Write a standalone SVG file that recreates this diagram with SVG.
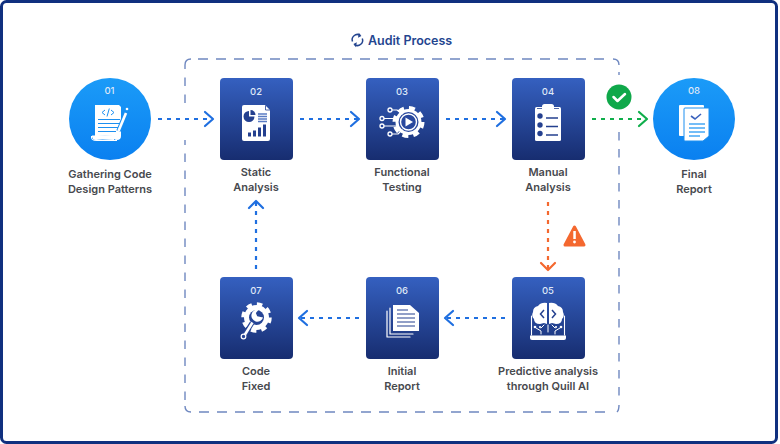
<svg xmlns="http://www.w3.org/2000/svg" width="780" height="444" viewBox="0 0 780 444">
<style>
.lbl{font:600 11px Inter,"Liberation Sans",sans-serif;fill:#47494e;text-anchor:middle}
.num{font:500 9.5px Inter,"Liberation Sans",sans-serif;fill:#dfe7f7;text-anchor:middle}
.conn{fill:none;stroke-width:2.2;stroke-dasharray:4 5}
.head{fill:none;stroke-width:2.2;stroke-linecap:round;stroke-linejoin:round}
.w{fill:#fff}
.ws{fill:none;stroke:#fff;stroke-linecap:round;stroke-linejoin:round}
</style>
<defs>
<linearGradient id="tile" x1="0" y1="0" x2="0" y2="1"><stop offset="0" stop-color="#3560c0"/><stop offset="1" stop-color="#172d70"/></linearGradient>
<linearGradient id="disc" x1="0" y1="0" x2="0" y2="1"><stop offset="0" stop-color="#1b9bf8"/><stop offset="1" stop-color="#0a80f0"/></linearGradient>
<rect id="box" width="73" height="82" rx="4" fill="url(#tile)"/>
</defs>
<rect x="1.500" y="1.500" width="775" height="441" rx="5" fill="#fff" stroke="#10307f" stroke-width="3"/>

<!-- audit frame, broken where connectors and the status badge cross it -->
<g id="frame" fill="none" stroke="#6f88c0" stroke-width="1.400">
<path stroke-dasharray="8.500 8.500" d="M185 103V65"/>
<path d="M185 65q0-6 6-6"/>
<path stroke-dasharray="10 8" d="M198 59H608"/>
<path d="M613 59q6 0 6 6"/>
<path d="M619 72V75"/>
<path stroke-dasharray="8.500 8.500" d="M619 132V400"/>
<path d="M619 405q0 5-2 7"/>
<path stroke-dasharray="10 8" d="M605 412H196"/>
<path d="M191 412q-6 0-6-6"/>
<path stroke-dasharray="8.500 8.500" d="M185 400V140"/>
</g>
<g id="title">
<text x="368" y="45" font-family="Inter,'Liberation Sans',sans-serif" font-size="12.500" font-weight="600" fill="#24458f">Audit Process</text>
<path d="M352.500 41.500a5.200 5.200 0 0 1 7.500-6.300M362.300 38.500a5.200 5.200 0 0 1-7.500 6.300" fill="none" stroke="#24458f" stroke-width="1.500"/>
<path d="M358.800 32.800l2.600 3.200-3.400 1.800ZM356 47.200l-2.600-3.200 3.400-1.800Z" fill="#24458f"/>
</g>

<g id="connectors">
<path class="conn" stroke="#1f6fe0" d="M158 119H212"/><path class="head" stroke="#1f6fe0" d="M205 112l8 7-8 7"/>
<path class="conn" stroke="#1f6fe0" d="M300 119H358"/><path class="head" stroke="#1f6fe0" d="M351 112l8 7-8 7"/>
<path class="conn" stroke="#1f6fe0" d="M446 119H504"/><path class="head" stroke="#1f6fe0" d="M497 112l8 7-8 7"/>
<path class="conn" stroke="#0fae4b" d="M592 119H646"/><path class="head" stroke="#0fae4b" d="M639 112l8 7-8 7"/>
<path class="conn" stroke="#f4682f" d="M548 202V270"/><path class="head" stroke="#f4682f" d="M541 263l7 7 7-7"/>
<path class="conn" stroke="#1f6fe0" d="M505 318H447"/><path class="head" stroke="#1f6fe0" d="M453 311l-8 7 8 7"/>
<path class="conn" stroke="#1f6fe0" d="M359 318H301"/><path class="head" stroke="#1f6fe0" d="M307 311l-8 7 8 7"/>
<path class="conn" stroke="#1f6fe0" d="M256 269V202"/><path class="head" stroke="#1f6fe0" d="M249 208l7-7 7 7"/>
</g>

<g id="status-ok"><circle cx="619" cy="97" r="12.500" fill="#0fa84a"/><path d="M613.500 97l4 4 7.500-7" fill="none" stroke="#fff" stroke-width="2.500" stroke-linecap="round" stroke-linejoin="round"/></g>
<g id="status-warn"><path d="M574.500 227L584 245H565Z" fill="#f4682f" stroke="#f4682f" stroke-width="3" stroke-linejoin="round"/><rect x="573.300" y="231" width="2.500" height="8" fill="#fff"/><circle cx="574.500" cy="242" r="1.400" fill="#fff"/></g>

<g id="node-01">
<circle cx="110" cy="119" r="41" fill="url(#disc)"/>
<text class="num" x="109.500" y="94">01</text>
<path class="w" d="M95 105H119L121 107V136Q121 140 117 140Q113 140 113 136Q100 135 92 137Q91 140 97 140H117V141H97Q90 141 91 136L95 136Z"/>
<path class="w" d="M92 135.500H114V140Q100 139 96 140Q92 140 92 135.500Z"/>
<path d="M105 110l-3 2.500 3 2.500M111 110l3 2.500-3 2.500M109.300 108.500l-2.300 8" fill="none" stroke="#1c8ff0" stroke-width="1"/>
<path d="M98 119.500H120M98 123.500H120M98 127.500H118M98 131.500H116" stroke="#1c8ff0" stroke-width="1.200"/>
<path d="M118.500 131L126 112" stroke="#1c8ff0" stroke-width="4.500"/>
<path d="M118.500 131L126 113" stroke="#fff" stroke-width="2.600"/>
<circle cx="127" cy="109" r="1.300" fill="#fff"/>
</g>
<g id="node-02">
<use href="#box" x="220" y="78"/>
<text class="num" x="256" y="95">02</text>
<path class="w" d="M244 105Q242 105 242 107V139Q242 141 244 141H268Q270 141 270 139V110L265 105Z"/>
<path d="M265.500 105.500V110H270" fill="none" stroke="#24408f" stroke-width=".8"/>
<path d="M249 111V116.500H254.500A5.500 5.500 0 1 1 249 111Z" fill="#24408f"/><path d="M250.500 110A5 5 0 0 1 255.500 115H250.500Z" fill="#24408f"/>
<path d="M258 114H267M258 116.500H267M258 119H267M258 121.500H267" stroke="#5b7cc4" stroke-width="1.300"/>
<path d="M248 136.500h3v-4h-3zM253 136.500h3v-6h-3zM258 136.500h3v-9h-3zM263 136.500h3v-12h-3z" fill="#24408f"/>
</g>
<g id="node-03">
<use href="#box" x="366" y="78"/>
<text class="num" x="402" y="95">03</text>
<circle cx="408.500" cy="122" r="13" class="w"/>
<circle cx="408.500" cy="122" r="14" fill="none" stroke="#fff" stroke-width="4" stroke-dasharray="6 5"/>
<circle cx="408.500" cy="122" r="10" fill="#29489e"/>
<circle cx="408.500" cy="122" r="8" fill="none" stroke="#fff" stroke-width="1.400"/>
<path class="w" d="M405.500 117.500L413 122L405.500 126.500Z"/>
<path class="ws" stroke-width="1.200" d="M392 110H397L402 114M383.500 118.500H397M384 126H398M392 134H398L402 130"/>
<g fill="#29489e" stroke="#fff" stroke-width="1.300"><circle cx="390" cy="110" r="2"/><circle cx="382" cy="118.500" r="2"/><circle cx="382" cy="126" r="2"/><circle cx="390" cy="134" r="2"/></g>
</g>
<g id="node-04">
<use href="#box" x="512" y="78"/>
<text class="num" x="548" y="95">04</text>
<rect class="w" x="535" y="107" width="26" height="34" rx="1.500"/>
<rect class="w" x="542" y="104" width="12" height="5" rx="2.500"/>
<path d="M537 108.500H542M554 108.500H559" stroke="#24408f" stroke-width=".8"/>
<g fill="#24408f"><circle cx="540" cy="116" r="2.700"/><circle cx="540" cy="125" r="2.700"/><circle cx="540" cy="133.500" r="2.700"/></g>
<path d="M546 118H558M546 126.500H558M546 135H558" stroke="#24408f" stroke-width="1.600"/>
</g>
<g id="node-05">
<use href="#box" x="512" y="277"/>
<text class="num" x="548" y="294">05</text>
<path class="ws" stroke-width="1.100" d="M531.500 316V335M564.500 316V335"/>
<path class="w" d="M547 303Q541 302 538 306Q533 307 533 312Q531 316 534 319Q534 324 540 324L544 323L547 324ZM549 303Q555 302 558 306Q563 307 563 312Q565 316 562 319Q562 324 556 324L552 323L549 324Z"/>
<path d="M544 310l-3.500 4 3.500 4M552 310l3.500 4-3.500 4" fill="none" stroke="#24408f" stroke-width="1.500"/>
<path class="w" d="M530 335.500H566V338Q566 340 564 340H532Q530 340 530 338Z"/>
<path class="ws" stroke-width="1" d="M536 328L541 331V334M560 328L555 331V334M548 325V332M544 325L541 328M552 325L555 328"/>
<g class="w"><circle cx="535" cy="327" r="1.300"/><circle cx="561" cy="327" r="1.300"/><circle cx="540" cy="327" r="1.100"/><circle cx="556" cy="327" r="1.100"/></g>
</g>
<g id="node-06">
<use href="#box" x="366" y="277"/>
<text class="num" x="402" y="294">06</text>
<path class="ws" stroke-width="1.200" d="M387 311V337H410M390 308V334H413"/>
<path class="w" d="M393 305H410L419 313V331H393Z"/>
<path d="M397 310H408M397 314H415M397 318H415M397 322H415M397 326H415" stroke="#24408f" stroke-width="1.100"/>
</g>
<g id="node-07">
<use href="#box" x="220" y="277"/>
<text class="num" x="256" y="294">07</text>
<circle cx="256.500" cy="317.500" r="12.500" class="w"/>
<circle cx="256.500" cy="317.500" r="13.500" fill="none" stroke="#fff" stroke-width="3.500" stroke-dasharray="5.500 5.100"/>
<circle cx="256.500" cy="317.500" r="7.500" fill="#264596"/>
<path d="M252 323L244.500 335" stroke="#264596" stroke-width="5"/>
<path d="M252.500 322.500L245 334.500" stroke="#fff" stroke-width="2.600"/>
<path d="M262 311.500A6 6 0 1 0 262 320.500L257.500 316.500L258 313Z" class="w" transform="rotate(-30 257 317)"/>
<circle cx="243.500" cy="336.500" r="2.300" fill="#264596" stroke="#fff" stroke-width="1.200"/>
</g>
<g id="node-08">
<circle cx="694" cy="119" r="41" fill="url(#disc)"/>
<text class="num" x="694" y="94">08</text>
<rect class="w" x="679" y="105" width="25" height="31" rx="1"/>
<path d="M685 108H709V136L703 141H685Q684 141 684 140V109Q684 108 685 108Z" fill="#fff" stroke="#1c8ff0"/>
<path d="M691 116l4 3 6-5" fill="none" stroke="#3a62bd" stroke-width="1.600"/>
<path d="M689 124H705M689 128H705M689 132H705M689 136H700" stroke="#45a8f5" stroke-width="1.500"/>
</g>

<g id="labels">
<text class="lbl" x="110" y="178">Gathering Code</text><text class="lbl" x="110" y="193">Design Patterns</text>
<text class="lbl" x="256" y="176">Static</text><text class="lbl" x="256" y="191">Analysis</text>
<text class="lbl" x="402" y="176">Functional</text><text class="lbl" x="402" y="191">Testing</text>
<text class="lbl" x="548" y="176">Manual</text><text class="lbl" x="548" y="191">Analysis</text>
<text class="lbl" x="694" y="178">Final</text><text class="lbl" x="694" y="193">Report</text>
<text class="lbl" x="548" y="375">Predictive analysis</text><text class="lbl" x="548" y="390">through Quill AI</text>
<text class="lbl" x="402" y="375">Initial</text><text class="lbl" x="402" y="390">Report</text>
<text class="lbl" x="256" y="375">Code</text><text class="lbl" x="256" y="390">Fixed</text>
</g>
</svg>
